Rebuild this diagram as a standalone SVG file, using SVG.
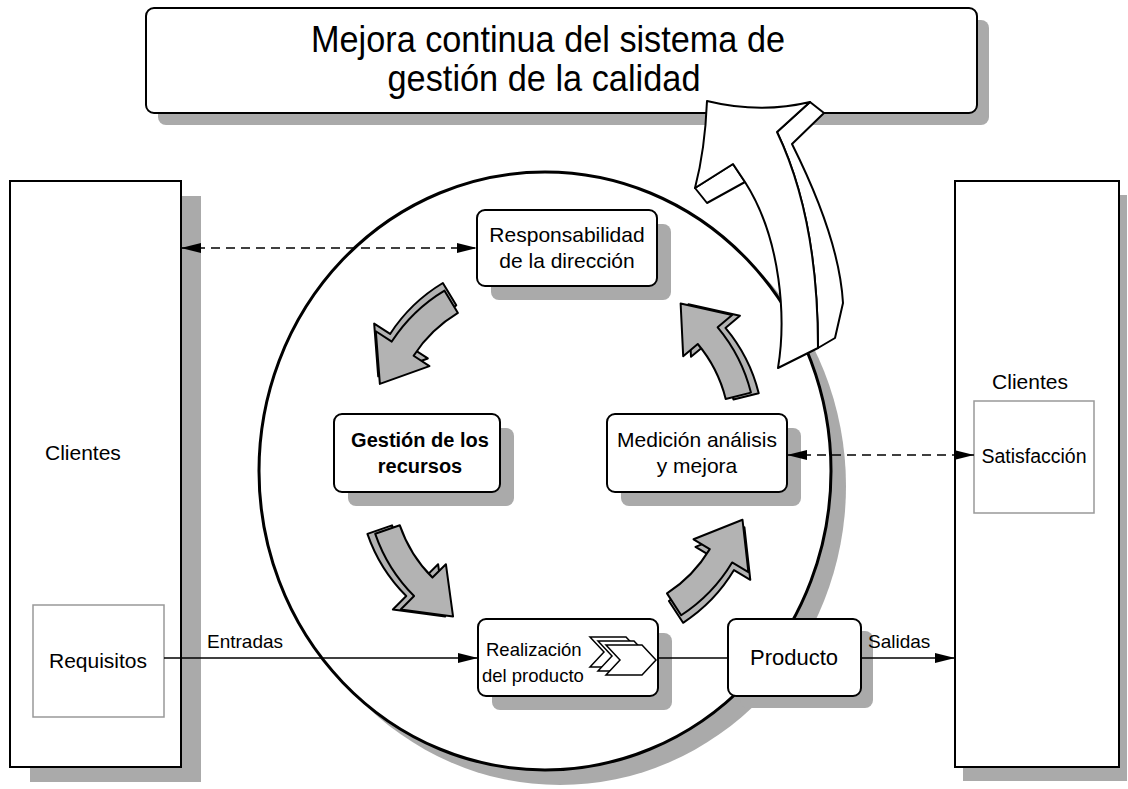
<svg xmlns="http://www.w3.org/2000/svg" xmlns:xlink="http://www.w3.org/1999/xlink" width="1128" height="789" viewBox="0 0 1128 789">
<style>
text{font-family:"Liberation Sans",Arial,sans-serif;fill:#000}
.sh{fill:#aaaaaa}
.box{fill:#fff;stroke:#000;stroke-width:2}
.sub{fill:#fff;stroke:#999;stroke-width:1.5}
.node{fill:#fff;stroke:#000;stroke-width:2}
.conn{fill:none;stroke:#000;stroke-width:1.6}
.dash{stroke-dasharray:9,6}
.ca{fill:#b3b3b3;stroke:#000;stroke-width:2;stroke-linejoin:round}
.big{fill:#fff;stroke:#000;stroke-width:2;stroke-linejoin:round}
.chev{fill:#fff;stroke:#000;stroke-width:1.5;stroke-linejoin:miter}
</style>
<defs>
<marker id="ah" viewBox="0 0 20 10" refX="20" refY="5" markerWidth="20" markerHeight="10" orient="auto-start-reverse" markerUnits="userSpaceOnUse"><path d="M0,0 L20,5 L0,10 Z" fill="#000"/></marker>
<g id="carrow">
<path class="ca" transform="translate(6,5)" d="M152.2,58.4 A163,163 0 0 0 162.4,-14.2 L181.3,-15.9 L145.7,-54.9 L117.6,-10.3 L136.5,-11.9 A137,137 0 0 1 127.9,49.1 Z"/>
<path class="ca" d="M152.2,58.4 A163,163 0 0 0 162.4,-14.2 L181.3,-15.9 L145.7,-54.9 L117.6,-10.3 L136.5,-11.9 A137,137 0 0 1 127.9,49.1 Z"/>
</g>
</defs>
<rect width="1128" height="789" fill="#fff"/>

<g id="title">
<rect class="sh" x="158" y="20" width="831" height="105" rx="8"/>
<rect class="box" x="146" y="8" width="831" height="105" rx="8"/>
<text x="548" y="52" font-size="37" text-anchor="middle" textLength="474" lengthAdjust="spacingAndGlyphs">Mejora continua del sistema de</text>
<text x="544" y="91" font-size="37" text-anchor="middle" textLength="313" lengthAdjust="spacingAndGlyphs">gestión de la calidad</text>
</g>

<g id="circle">
<ellipse class="sh" cx="560" cy="486" rx="286" ry="299"/>
<ellipse cx="545" cy="471" rx="286" ry="299" fill="#fff" stroke="#000" stroke-width="3"/>
</g>

<g id="clientes-left">
<rect class="sh" x="30" y="196" width="171" height="586"/>
<rect class="box" x="10" y="181" width="171" height="586"/>
<text x="45" y="460" font-size="21">Clientes</text>
</g>
<g id="requisitos">
<rect class="sub" x="33" y="605" width="131" height="112"/>
<text x="98" y="668" font-size="21" text-anchor="middle">Requisitos</text>
</g>

<g id="clientes-right">
<rect class="sh" x="963" y="195" width="164" height="586"/>
<rect class="box" x="955" y="181" width="164" height="586"/>
<text x="1030" y="389" font-size="21" text-anchor="middle">Clientes</text>
</g>
<g id="satisfaccion">
<rect class="sub" x="974" y="401" width="120" height="112"/>
<text x="1034" y="463" font-size="19.5" text-anchor="middle">Satisfacción</text>
</g>

<g id="responsabilidad">
<rect class="sh" x="491" y="224" width="180" height="76" rx="8"/>
<rect class="node" x="477" y="210" width="180" height="76" rx="8"/>
<text x="567" y="242" font-size="21" text-anchor="middle">Responsabilidad</text>
<text x="567" y="268" font-size="21" text-anchor="middle">de la dirección</text>
</g>

<g id="gestion">
<rect class="sh" x="348" y="428" width="166" height="78" rx="8"/>
<rect class="node" x="334" y="414" width="166" height="78" rx="8"/>
<text x="420" y="447" font-size="20" font-weight="bold" text-anchor="middle">Gestión de los</text>
<text x="420" y="473" font-size="20" font-weight="bold" text-anchor="middle">recursos</text>
</g>

<g id="medicion">
<rect class="sh" x="621" y="428" width="180" height="78" rx="8"/>
<rect class="node" x="607" y="414" width="180" height="78" rx="8"/>
<text x="697" y="447" font-size="21" text-anchor="middle">Medición análisis</text>
<text x="697" y="473" font-size="21" text-anchor="middle">y mejora</text>
</g>

<g id="realizacion">
<rect class="sh" x="492" y="633" width="180" height="77" rx="8"/>
<rect class="node" x="478" y="619" width="180" height="77" rx="8"/>
<text x="486" y="656" font-size="18.5">Realización</text>
<text x="482" y="682" font-size="18.5">del producto</text>
<path class="chev" d="M590,637 L626,637 L640,652 L626,667 L590,667 L604,652 Z"/>
<path class="chev" d="M598,641 L634,641 L648,656 L634,671 L598,671 L612,656 Z"/>
<path class="chev" d="M606,645 L642,645 L656,660 L642,675 L606,675 L620,660 Z"/>
</g>

<g id="producto">
<rect class="sh" x="740" y="631" width="133" height="77" rx="8"/>
<rect class="node" x="728" y="619" width="133" height="77" rx="8"/>
<text x="794" y="665" font-size="22" text-anchor="middle">Producto</text>
</g>

<g id="connectors">
<line class="conn dash" x1="181" y1="248" x2="477" y2="248" marker-start="url(#ah)" marker-end="url(#ah)"/>
<line class="conn dash" x1="787" y1="455" x2="974" y2="455" marker-start="url(#ah)" marker-end="url(#ah)"/>
<line class="conn" x1="164" y1="658" x2="478" y2="658" marker-end="url(#ah)"/>
<line class="conn" x1="658" y1="658" x2="728" y2="658"/>
<line class="conn" x1="861" y1="658" x2="955" y2="658" marker-end="url(#ah)"/>
<text x="207" y="648" font-size="19">Entradas</text>
<text x="868" y="648" font-size="19">Salidas</text>
</g>

<g id="cycle-arrows">
<use xlink:href="#carrow" transform="translate(560,455) rotate(218) translate(40,0)"/>
<use xlink:href="#carrow" transform="translate(560,455) rotate(325) translate(40,0)"/>
<use xlink:href="#carrow" transform="translate(560,455) rotate(140) translate(40,0)"/>
<use xlink:href="#carrow" transform="translate(560,455) rotate(36) translate(40,0)"/>
</g>

<g id="mejora-arrow">
<path class="big" d="M810,102 L824,113 L792,144 C815,190 840,250 843,303 L835,338 L818,348 C818,250 800,180 777,132 Z"/>
<path class="big" d="M695,188 L707,203 L745,182 L733,164 Z"/>
<path class="big" d="M707,101 Q760,114 810,102 L777,132 C800,180 818,250 818,348 L778,368 C786,320 782,240 745,182 L733,164 L695,188 Q705,150 707,101 Z"/>
</g>
</svg>
